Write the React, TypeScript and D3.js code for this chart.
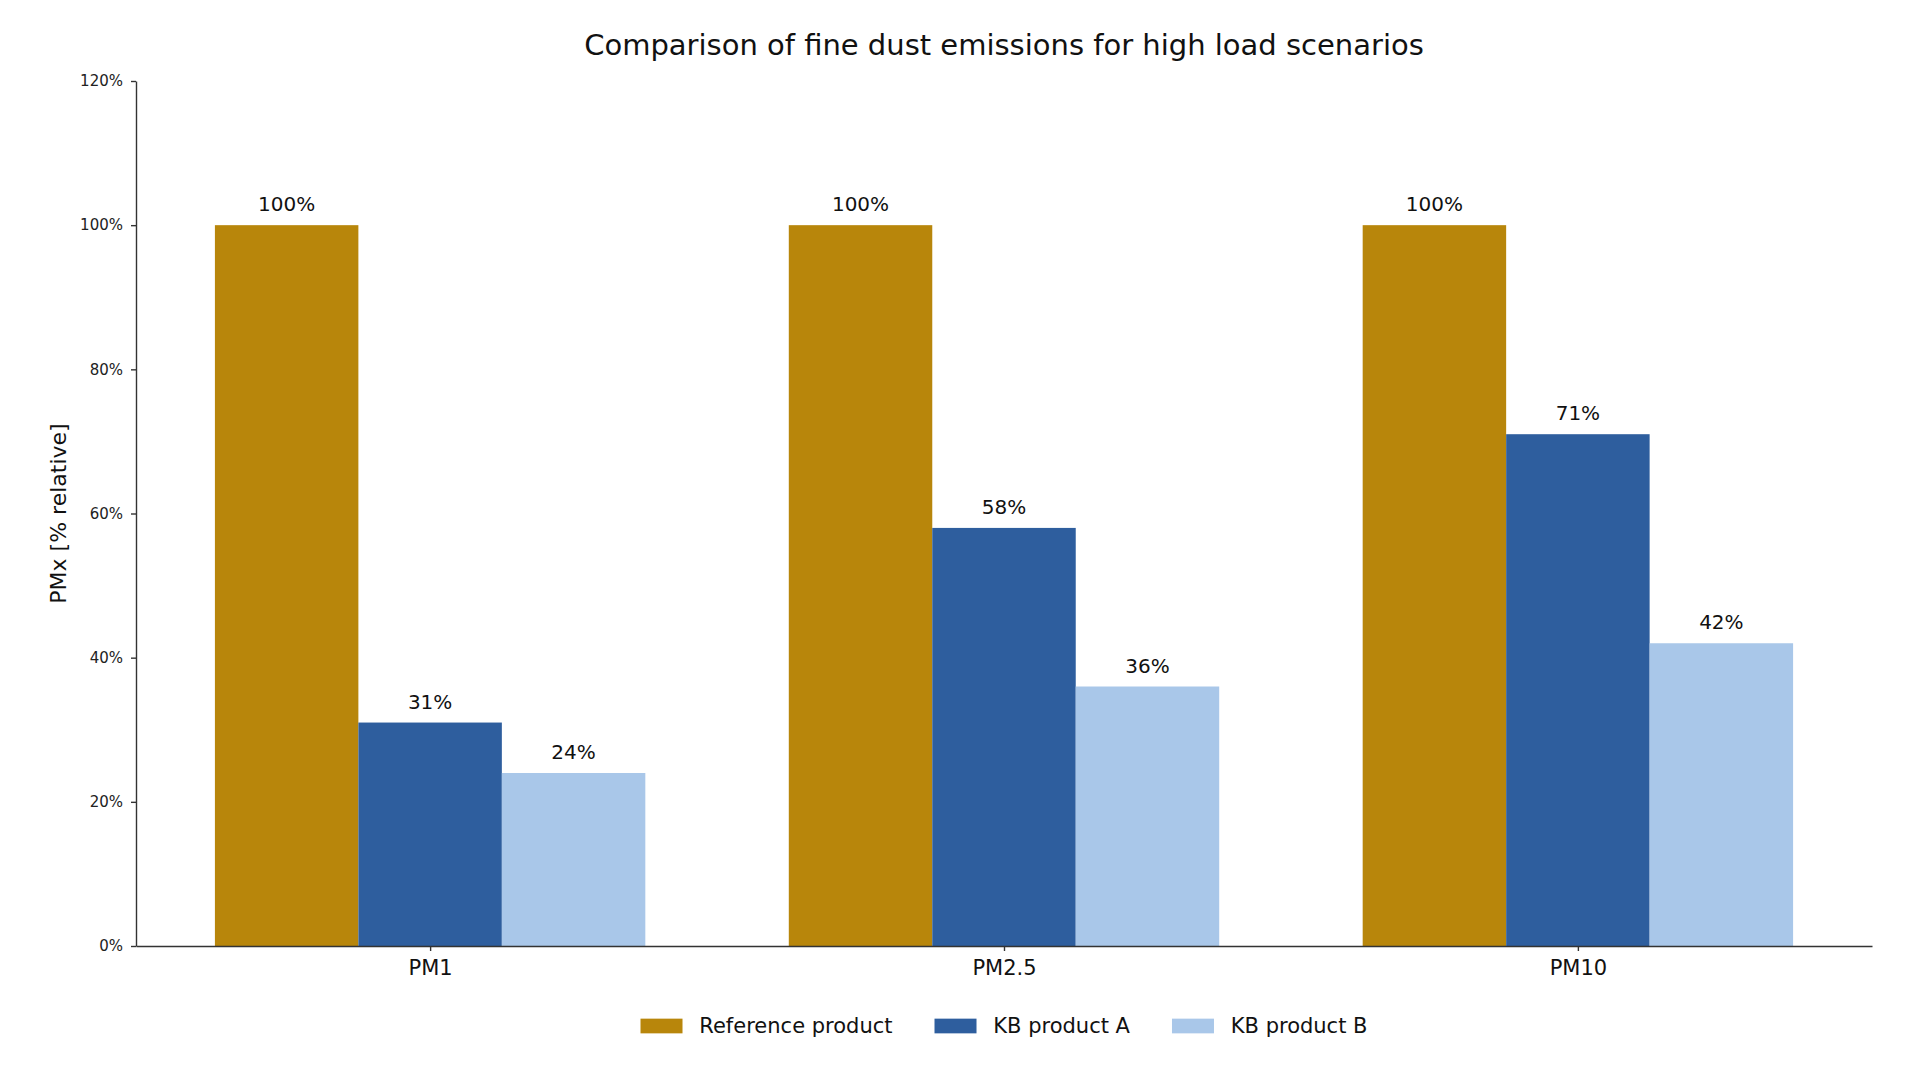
import React, { useEffect, useRef } from 'react';
import * as d3 from 'd3';

const categories = ['PM1', 'PM2.5', 'PM10'];
const seriesNames = ['Reference product', 'KB product A', 'KB product B'];
const referenceValues = [100, 100, 100];
const productAValues = [31, 58, 71];
const productBValues = [24, 36, 42];
const yTicks = [0, 20, 40, 60, 80, 100, 120];
const colors = ['#B8860B', '#2E5E9E', '#A9C7E9'];

const W = 1920;
const H = 1080;
const FONT = '"DejaVu Sans", sans-serif';

const App = () => {
    const svgRef = useRef<SVGSVGElement>(null);

    useEffect(() => {
        const svg = d3.select(svgRef.current);
        svg.selectAll('*').remove();

        const series = [referenceValues, productAValues, productBValues];
        const barW = 0.25;

        // same limits matplotlib picks for 3 groups of 3 bars (5% margins)
        const x = d3.scaleLinear().domain([-0.5125, 2.5125]).range([136, 1872]);
        const y = d3.scaleLinear().domain([0, 120]).range([946, 81]);

        // bars
        series.forEach((vals, j) => {
            const g = svg.append('g');
            g.selectAll('rect')
                .data(vals)
                .join('rect')
                .attr('x', (d, i) => x(i + (j - 1) * barW - barW / 2))
                .attr('width', x(barW) - x(0))
                .attr('y', d => y(d))
                .attr('height', d => y(0) - y(d))
                .attr('fill', colors[j]);

            g.selectAll('text')
                .data(vals)
                .join('text')
                .attr('x', (d, i) => x(i + (j - 1) * barW))
                .attr('y', d => y(d) - 14)
                .attr('text-anchor', 'middle')
                .style('font-family', FONT)
                .style('font-size', '20px')
                .attr('fill', '#111')
                .text(d => d + '%');
        });

        // axes
        const yAxis = d3.axisLeft(y)
            .tickValues(yTicks)
            .tickFormat((d: any) => d + '%')
            .tickSize(5)
            .tickSizeOuter(0)
            .tickPadding(8);
        const gy = svg.append('g').attr('transform', 'translate(' + x.range()[0] + ',0)').call(yAxis);
        gy.selectAll('text').style('font-family', FONT).style('font-size', '15px').attr('fill', '#222');

        const xAxis = d3.axisBottom(x)
            .tickValues([0, 1, 2])
            .tickFormat((d: any) => categories[d])
            .tickSize(5)
            .tickSizeOuter(0)
            .tickPadding(9);
        const gx = svg.append('g').attr('transform', 'translate(0,' + y(0) + ')').call(xAxis);
        gx.selectAll('text').style('font-family', FONT).style('font-size', '21px').attr('fill', '#111');

        svg.selectAll('.domain, .tick line').attr('stroke', '#333').attr('stroke-width', 1.4);

        const midX = (x.range()[0] + x.range()[1]) / 2;

        // title + y label
        svg.append('text')
            .attr('x', midX)
            .attr('y', 55)
            .attr('text-anchor', 'middle')
            .style('font-family', FONT)
            .style('font-size', '29px')
            .attr('fill', '#111')
            .text('Comparison of fine dust emissions for high load scenarios');

        svg.append('text')
            .attr('transform', 'translate(58,' + (y(0) + y(120)) / 2 + ') rotate(-90)')
            .attr('text-anchor', 'middle')
            .attr('dominant-baseline', 'central')
            .style('font-family', FONT)
            .style('font-size', '22px')
            .attr('fill', '#111')
            .text('PMx [% relative]');

        // legend, laid out like matplotlib (handle 2em, pad 0.8em, column gap 2em)
        const fs = 21;
        const legend = svg.append('g');
        const items = seriesNames.map((name, j) => {
            const item = legend.append('g');
            item.append('rect')
                .attr('width', fs * 2)
                .attr('height', fs * 0.7)
                .attr('y', -fs * 0.35)
                .attr('fill', colors[j]);
            const t = item.append('text')
                .attr('x', fs * 2.8)
                .attr('dominant-baseline', 'central')
                .style('font-family', FONT)
                .style('font-size', fs + 'px')
                .attr('fill', '#111')
                .text(name);
            const w = fs * 2.8 + (t.node() as SVGTextElement).getComputedTextLength();
            return { item, w };
        });
        const total = d3.sum(items, d => d.w) + fs * 2 * (items.length - 1);
        let cx = midX - total / 2;
        items.forEach(({ item, w }) => {
            item.attr('transform', 'translate(' + cx + ',1026)');
            cx += w + fs * 2;
        });
    }, []);

    return (
        <svg
            ref={svgRef}
            width={W}
            height={H}
            style={{ position: 'absolute', left: 0, top: 0, background: '#fff' }}
        />
    );
};

export default App;
